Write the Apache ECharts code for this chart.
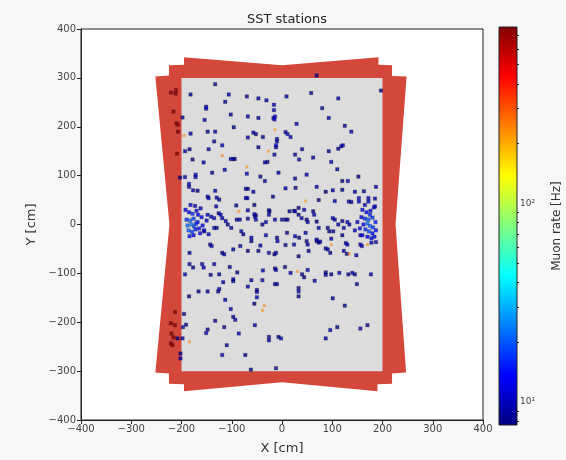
<!DOCTYPE html>
<html>
<head>
<meta charset="utf-8">
<script src="https://cdn.jsdelivr.net/npm/echarts@6/dist/echarts.min.js"></script>
<style>
html, body { margin: 0; padding: 0; background: #f7f7f7; }
#chart { width: 566px; height: 460px; }
</style>
</head>
<body>
<div id="chart"></div>
<script>
// station outline of the SST frame (cm)
const frameOutline = [
	[-195, 342], [0, 326], [192, 342], [192, 327], [219, 326], [219, 304], [248, 303],
	[226, 0], [247, -303], [219, -305], [219, -326], [190, -327], [190, -341], [0, -323],
	[-195, -341], [-195, -327], [-225, -326], [-225, -305], [-252, -303], [-224, 0],
	[-252, 303], [-225, 305], [-225, 326], [-195, 327]
];
const innerPlane = [[-200, -300], [200, 300]];

// [x cm, y cm, muon rate Hz]
const navyStations = [
	[-133, 287, 8], [-182, 266, 8], [-106, 266, 9], [-70, 262, 8], [-47, 258, 9], [-31, 254, 9],
	[-16, 245, 10], [9, 262, 9], [58, 269, 8], [112, 258, 9], [197, 274, 8], [69, 305, 8],
	[-151, 241, 9], [-151, 237, 10], [-113, 251, 8], [-198, 219, 8], [-154, 214, 9], [-102, 225, 8],
	[-68, 221, 9], [-47, 218, 8], [-17, 218, 10], [-14, 221, 11], [-15, 215, 10], [-16, 234, 9],
	[29, 206, 9], [80, 238, 8], [93, 218, 9], [125, 202, 8], [138, 190, 9],
	[-182, 186, 9], [-148, 190, 8], [-133, 190, 9], [-96, 199, 8], [-57, 188, 9], [-52, 185, 8],
	[7, 189, 9], [11, 185, 10], [17, 179, 9], [-68, 178, 9], [-38, 179, 8], [-10, 175, 9],
	[-10, 170, 9], [-135, 170, 8], [-119, 162, 9], [-193, 150, 9], [-184, 154, 8], [-146, 154, 9],
	[-47, 158, 8], [-12, 158, 9], [-12, 162, 10], [40, 154, 8], [93, 150, 9], [112, 155, 8],
	[118, 160, 9], [121, 162, 9],
	[-178, 133, 8], [-156, 127, 9], [-102, 134, 10], [-97, 134, 9], [-94, 134, 8], [-114, 112, 9],
	[-34, 127, 9], [-29, 128, 8], [-15, 143, 9], [26, 143, 8], [34, 133, 9], [62, 137, 8],
	[98, 128, 9], [110, 113, 8],
	[-193, 97, 9], [-172, 102, 10], [-172, 97, 9], [-139, 106, 8], [-70, 104, 9], [-43, 98, 8],
	[-7, 106, 9], [26, 94, 8], [49, 102, 9], [27, 75, 8], [7, 74, 9], [-34, 89, 8],
	[-185, 83, 10], [-185, 77, 9], [-177, 70, 9], [-168, 69, 8], [-133, 69, 9], [-72, 73, 9],
	[-68, 73, 8], [-57, 67, 9], [-18, 57, 8], [69, 77, 9], [120, 89, 8], [131, 89, 9],
	[152, 98, 8], [187, 77, 9], [87, 67, 8], [101, 70, 9], [120, 71, 8], [145, 67, 9], [163, 68, 8],
	[172, 54, 10], [172, 47, 10], [153, 54, 10], [153, 47, 10], [133, 47, 9], [138, 46, 8],
	[105, 48, 9], [73, 50, 8], [185, 53, 9], [185, 37, 10],
	[-148, 57, 9], [-146, 54, 10], [-130, 55, 9], [-125, 51, 8], [-72, 54, 10], [-69, 54, 9],
	[-131, 37, 9], [-91, 39, 8], [-68, 29, 9], [-55, 40, 8], [-26, 29, 9], [15, 27, 8],
	[24, 28, 9], [33, 34, 8], [44, 30, 9], [62, 27, 8], [64, 20, 9], [-55, 21, 10], [-52, 19, 9],
	[-148, 20, 10], [-141, 16, 10], [-135, 13, 10], [-126, 23, 9], [-122, 20, 10], [-119, 13, 9],
	[-112, 7, 9], [-108, 0, 8], [-101, -7, 9], [-90, 10, 8], [-84, 10, 9], [-68, 12, 8],
	[-54, 16, 9], [-52, 10, 10], [-26, 20, 9], [-25, 27, 8], [-32, 5, 9], [-39, 0, 8],
	[-14, 10, 9], [0, 10, 8], [7, 10, 9], [11, 10, 8], [26, 27, 9], [33, 20, 8], [39, 13, 9],
	[49, 10, 8], [51, 5, 9], [69, 6, 8], [73, -7, 9], [91, -7, 8], [101, 13, 10], [105, 10, 9],
	[112, 0, 9], [120, 7, 8], [123, -7, 9], [130, 5, 10], [134, 0, 9], [102, -14, 8],
	[-135, -7, 9], [-130, -7, 8], [-155, -14, 10], [-146, -20, 10], [-81, -14, 9], [-77, -20, 8],
	[-61, -27, 9], [-61, -34, 8], [-32, -22, 9], [-10, -27, 8], [-9, -34, 9], [10, -17, 8],
	[26, -24, 9], [34, -27, 8], [47, -17, 9], [49, -34, 8], [69, -34, 9], [94, -14, 8],
	[98, -29, 9], [120, -22, 8], [127, -38, 9], [130, -41, 10], [156, -22, 10],
	[-184, -58, 9], [-143, -41, 8], [-140, -44, 9], [-119, -58, 8], [-115, -61, 9], [-97, -51, 8],
	[-83, -44, 9], [-68, -54, 8], [-43, -43, 9], [-47, -54, 8], [-26, -58, 9], [-15, -61, 8],
	[-12, -58, 9], [7, -42, 8], [24, -41, 9], [33, -65, 8], [51, -41, 9], [53, -54, 8],
	[69, -31, 9], [73, -37, 8], [76, -35, 9], [87, -49, 8], [91, -51, 9], [96, -58, 8],
	[123, -54, 9], [129, -60, 8], [148, -63, 9], [156, -41, 10], [159, -44, 9], [178, -37, 10],
	[187, -36, 9],
	[-184, -81, 9], [-177, -88, 8], [-159, -81, 9], [-156, -88, 10], [-135, -81, 9], [-104, -87, 8],
	[-125, -102, 9], [-142, -103, 8], [-193, -102, 9], [-89, -98, 8], [-38, -94, 9], [-14, -90, 8],
	[-12, -93, 9], [6, -87, 8], [17, -99, 9], [40, -102, 8], [51, -93, 9], [87, -98, 8],
	[87, -103, 9], [98, -102, 8], [114, -99, 9], [132, -102, 8], [177, -102, 9], [145, -102, 8],
	[140, -99, 9],
	[-117, -118, 9], [-97, -116, 8], [-97, -112, 9], [-61, -114, 8], [-39, -114, 9], [-14, -122, 8],
	[-10, -122, 9], [44, -108, 8], [65, -115, 9], [149, -122, 8], [-68, -127, 9], [33, -130, 8],
	[33, -137, 9], [-50, -134, 8], [-50, -138, 9], [-166, -137, 8], [-148, -137, 9], [-127, -137, 8],
	[-125, -132, 9], [-185, -147, 8], [-50, -149, 9], [33, -147, 8], [-113, -154, 9], [-55, -162, 8],
	[101, -151, 9], [125, -166, 8], [-102, -173, 9], [-97, -189, 8], [-93, -195, 9], [-133, -197, 8],
	[-54, -206, 9], [-148, -215, 8], [-151, -222, 9], [-115, -210, 8], [-86, -223, 9], [-26, -230, 8],
	[-26, -237, 9], [-7, -230, 8], [-2, -233, 9], [-110, -247, 8], [-119, -267, 9], [-73, -267, 8],
	[96, -216, 9], [110, -210, 8], [156, -213, 9], [170, -206, 8], [87, -233, 9],
	[-62, -297, 8], [-12, -294, 8],
	[-195, -183, 8], [-197, -210, 9], [-191, -205, 8], [-208, -233, 8], [-198, -233, 9],
	[-202, -264, 8], [-202, -274, 9], [-203, 96, 8]
];

const clusterStations = [
	[-185, 25, 13], [-178, 22, 17], [-170, 28, 12], [-190, 10, 16], [-183, 8, 21], [-176, 12, 18],
	[-168, 5, 14], [-160, 15, 12], [-188, -2, 22], [-180, 0, 24], [-175, -4, 20], [-171, 2, 16],
	[-165, -8, 13], [-158, -2, 12], [-186, -12, 21], [-179, -15, 18], [-172, -10, 15], [-163, -18, 12],
	[-184, -24, 15], [-176, -22, 13], [-192, 30, 12], [-150, 8, 10], [-155, -12, 11], [-167, 20, 13],
	[-182, 40, 11], [-173, 38, 10], [-162, 33, 10],
	[160, 30, 11], [168, 25, 13], [176, 28, 12], [183, 35, 11], [158, 15, 12], [165, 12, 16],
	[172, 10, 20], [180, 14, 17], [186, 5, 15], [162, 0, 14], [170, 2, 23], [175, -3, 21],
	[181, -6, 17], [155, -8, 12], [166, -10, 16], [173, -14, 18], [180, -18, 14], [160, -22, 12],
	[170, -25, 13], [178, -28, 12], [150, 5, 10], [145, -12, 10], [187, -12, 13], [175, 20, 16],
	[165, 40, 10], [184, -25, 12]
];

const darkRedStations = [
	[-221, 270, 720], [-212, 268, 750], [-211, 275, 700], [-216, 231, 740], [-210, 207, 720],
	[-207, 204, 690], [-207, 190, 750], [-209, 145, 710], [-213, -179, 730], [-221, -202, 750],
	[-213, -206, 700], [-220, -223, 740], [-216, -231, 720], [-221, -243, 750], [-218, -247, 700]
];

const orangeStations = [
	[-195, 182, 250], [-14, 194, 230], [-119, 141, 260], [-27, 150, 240], [-70, 118, 250],
	[47, 48, 230], [-86, 27, 250], [98, -41, 240], [134, -60, 260], [170, -41, 250],
	[31, -96, 240], [-35, -166, 250], [-39, -176, 240], [-184, -240, 250]
];

// colorbar
const rateMin = 7.64;
const rateMax = 774;
const majorTicks = [10, 100];
const minorTicks = [8, 9, 20, 30, 40, 50, 60, 70, 80, 90, 200, 300, 400, 500, 600, 700];

const logMin = Math.log10(rateMin);
const logMax = Math.log10(rateMax);

function jet(t) {
	const c = (v) => Math.round(255 * Math.max(0, Math.min(1, v)));
	return "rgb(" + c(1.5 - Math.abs(4 * t - 3)) + "," + c(1.5 - Math.abs(4 * t - 2)) + "," + c(1.5 - Math.abs(4 * t - 1)) + ")";
}
const jetColors = [];
for (let i = 0; i <= 40; i++) jetColors.push(jet(i / 40));

const toPoint = (s) => [s[0], s[1], Math.log10(s[2])];
const mainStations = navyStations.concat(clusterStations, darkRedStations).map(toPoint);
const faintStations = orangeStations.map(toPoint);

const font = "DejaVu Sans";
const chart = echarts.init(document.getElementById("chart"));

let option = {
	animation: false,
	backgroundColor: "#f7f7f7",
	textStyle: { fontFamily: font },
	title: {
		text: "SST stations",
		left: 282,
		textAlign: "center",
		top: 8,
		textStyle: { fontSize: 13, fontWeight: "normal", color: "#222", fontFamily: font },
	},
	grid: [
		{ left: 81, right: 83, top: 29, bottom: 36, show: true, backgroundColor: "#fff", borderColor: "#222", borderWidth: 1 },
		{ left: 499, width: 18, top: 27, bottom: 35 },
	],
	xAxis: [
		{
			gridIndex: 0,
			type: "value",
			min: -400,
			max: 400,
			interval: 100,
			name: "X [cm]",
			nameLocation: "middle",
			nameGap: 22,
			nameTextStyle: { fontSize: 13, color: "#333" },
			axisLine: { onZero: false, lineStyle: { color: "#222" } },
			axisTick: { length: 4, lineStyle: { color: "#222" } },
			axisLabel: { fontSize: 10, color: "#444", margin: 4, formatter: (v) => String(v).replace("-", "\u2212") },
			splitLine: { show: false },
		},
		{ gridIndex: 1, type: "value", min: 0, max: 1, show: false },
	],
	yAxis: [
		{
			gridIndex: 0,
			type: "value",
			min: -400,
			max: 400,
			interval: 100,
			name: "Y [cm]",
			nameLocation: "middle",
			nameGap: 40,
			nameRotate: 90,
			nameTextStyle: { fontSize: 13, color: "#333" },
			axisLine: { onZero: false, lineStyle: { color: "#222" } },
			axisTick: { length: 4, lineStyle: { color: "#222" } },
			axisLabel: { fontSize: 10, color: "#444", margin: 5, formatter: (v) => String(v).replace("-", "\u2212") },
			splitLine: { show: false },
		},
		{
			gridIndex: 1,
			type: "value",
			position: "right",
			min: logMin,
			max: logMax,
			name: "Muon rate [Hz]",
			nameLocation: "middle",
			nameGap: 34,
			nameRotate: 90,
			nameTextStyle: { fontSize: 12, color: "#333" },
			axisLine: { show: false },
			axisTick: { length: 4, lineStyle: { color: "#222" }, customValues: majorTicks.map(Math.log10) },
			axisLabel: {
				fontSize: 9,
				color: "#444",
				margin: 3,
				customValues: majorTicks.map(Math.log10),
				formatter: (v) => "10" + (Math.round(v) === 1 ? "\u00b9" : "\u00b2"),
			},
			splitLine: { show: false },
		},
		{
			gridIndex: 1,
			type: "value",
			position: "right",
			min: logMin,
			max: logMax,
			axisLine: { show: false },
			axisTick: { length: 2, lineStyle: { color: "#222" }, customValues: minorTicks.map(Math.log10) },
			axisLabel: { show: false },
			splitLine: { show: false },
		},
	],
	visualMap: {
		type: "continuous",
		show: false,
		min: logMin,
		max: logMax,
		dimension: 2,
		seriesIndex: [2, 3],
		inRange: { color: jetColors },
	},
	series: [
		{
			type: "custom",
			xAxisIndex: 0,
			yAxisIndex: 0,
			data: [0],
			silent: true,
			renderItem: function (params, api) {
				return {
					type: "polygon",
					shape: { points: frameOutline.map((p) => api.coord(p)) },
					style: { fill: "#d4473b" },
				};
			},
		},
		{
			type: "custom",
			xAxisIndex: 0,
			yAxisIndex: 0,
			data: [0],
			silent: true,
			renderItem: function (params, api) {
				const a = api.coord(innerPlane[0]);
				const b = api.coord(innerPlane[1]);
				return {
					type: "rect",
					shape: { x: a[0], y: b[1], width: b[0] - a[0], height: a[1] - b[1] },
					style: { fill: "#dcdcdc" },
				};
			},
		},
		{
			type: "scatter",
			xAxisIndex: 0,
			yAxisIndex: 0,
			symbol: "rect",
			symbolSize: 3.5,
			itemStyle: { opacity: 0.8, borderColor: "rgba(30,30,50,0.5)", borderWidth: 0.6 },
			data: mainStations,
		},
		{
			type: "scatter",
			xAxisIndex: 0,
			yAxisIndex: 0,
			symbol: "rect",
			symbolSize: 3,
			itemStyle: { opacity: 0.55 },
			data: faintStations,
		},
		{
			type: "custom",
			xAxisIndex: 1,
			yAxisIndex: 1,
			data: [0],
			silent: true,
			renderItem: function (params, api) {
				const a = api.coord([0, logMin]);
				const b = api.coord([1, logMax]);
				return {
					type: "rect",
					shape: { x: a[0], y: b[1], width: b[0] - a[0], height: a[1] - b[1] },
					style: {
						fill: new echarts.graphic.LinearGradient(0, 1, 0, 0, jetColors.map((c, i) => ({ offset: i / (jetColors.length - 1), color: c }))),
						stroke: "#222",
						lineWidth: 1,
					},
				};
			},
		},
	],
};
chart.setOption(option, true);
</script>
</body>
</html>
